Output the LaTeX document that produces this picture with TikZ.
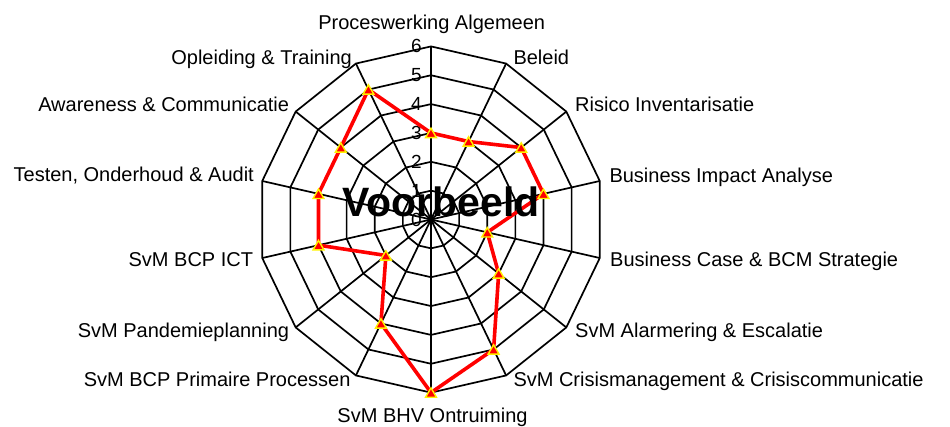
\documentclass[tikz,border=0pt]{standalone}
\usepackage{fontspec}
\setmainfont{Liberation Sans}
\usetikzlibrary{shapes.geometric}
\begin{document}
\begin{tikzpicture}[x=1pt,y=-1pt,
  grid/.style={black, line width=1.7pt, line join=miter},
  lbl/.style={font=\fontsize{20}{24}\selectfont, inner sep=0pt},
  num/.style={font=\fontsize{19}{22}\selectfont, inner sep=0pt, anchor=east},
  series/.style={red, line width=3.6pt, line join=round},
  mk/.style={regular polygon, regular polygon sides=3, fill=red, draw=yellow, line width=1.4pt, minimum size=12.5pt, inner sep=0pt, yshift=-1.5pt}
]
\useasboundingbox (0,0) rectangle (950,426);
\def\cx{431}\def\cy{219.5}\def\runit{28.85}
\coordinate (c) at (\cx,\cy);
\foreach \k in {0,...,13}{
  \foreach \v in {1,...,6}{
    \coordinate (p\k-\v) at ({\cx+\v*\runit*sin(\k*360/14)},{\cy-\v*\runit*cos(\k*360/14)});
  }
}
% grid rings
\foreach \v in {1,...,6}{
  \draw[grid] (p0-\v) -- (p1-\v) -- (p2-\v) -- (p3-\v) -- (p4-\v) -- (p5-\v) -- (p6-\v) -- (p7-\v) -- (p8-\v) -- (p9-\v) -- (p10-\v) -- (p11-\v) -- (p12-\v) -- (p13-\v) -- cycle;
}
% spokes
\foreach \k in {0,...,13}{
  \draw[grid] (c) -- (p\k-6);
}
% axis numbers
\foreach \v in {0,...,6}{
  \node[num] (n\v) at (422, {\cy-\v*\runit}) {\v};
}
% series
\draw[series] (p0-3) -- (p1-3) -- (p2-4) -- (p3-4) -- (p4-2) -- (p5-3) -- (p6-5) -- (p7-6) -- (p8-4) -- (p9-2) -- (p10-4) -- (p11-4) -- (p12-4) -- (p13-5) -- cycle;
\foreach \k/\v in {0/3,1/3,2/4,3/4,4/2,5/3,6/5,7/6,8/4,9/2,10/4,11/4,12/4,13/5}{
  \node[mk] (m\k) at (p\k-\v) {};
}
% watermark
\node[font=\bfseries\fontsize{41}{48}\selectfont, anchor=base, inner sep=0pt] (vb) at (441, 216.7) {Voorbeeld};
% category labels
\node[lbl, anchor=base] (l0) at (431.7, 29.3) {Proceswerking Algemeen};
\node[lbl, anchor=base west] (l1) at (513.3, 64.3) {Beleid};
\node[lbl, anchor=base west] (l2) at (575, 111) {Risico Inventarisatie};
\node[lbl, anchor=base west] (l3) at (609.3, 182) {Business Impact Analyse};
\node[lbl, anchor=base west] (l4) at (610, 266) {Business Case \& BCM Strategie};
\node[lbl, anchor=base west] (l5) at (575, 337.7) {SvM Alarmering \& Escalatie};
\node[lbl, anchor=base west] (l6) at (513.3, 386.7) {SvM Crisismanagement \& Crisiscommunicatie};
\node[lbl, anchor=base] (l7) at (432.5, 422.7) {SvM BHV Ontruiming};
\node[lbl, anchor=base east] (l8) at (350.7, 386) {SvM BCP Primaire Processen};
\node[lbl, anchor=base east] (l9) at (289.3, 337.7) {SvM Pandemieplanning};
\node[lbl, anchor=base east] (l10) at (253.3, 266) {SvM BCP ICT};
\node[lbl, anchor=base east] (l11) at (254, 181.7) {Testen, Onderhoud \& Audit};
\node[lbl, anchor=base east] (l12) at (289.3, 111) {Awareness \& Communicatie};
\node[lbl, anchor=base east] (l13) at (352, 64.3) {Opleiding \& Training};
\end{tikzpicture}
\end{document}
